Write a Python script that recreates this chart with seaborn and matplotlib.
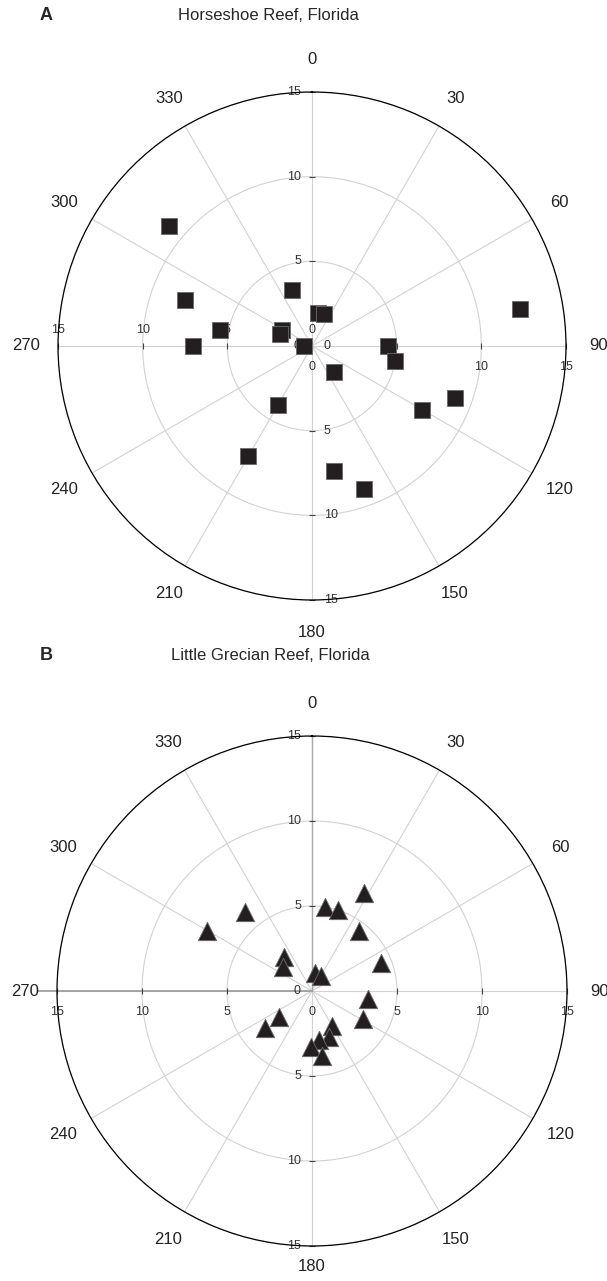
import numpy as np
import matplotlib
matplotlib.use("Agg")
import matplotlib.pyplot as plt
import seaborn as sns

# Horseshoe Reef (panel A): bearing in degrees, distance
hs_angle = [310, 290, 270, 280, 298, 290, 340, 10, 20, 270, 90, 100, 140, 80, 110, 120, 210, 210, 170, 160]
hs_dist = [11.0, 8.0, 7.0, 5.5, 2.0, 2.0, 3.5, 2.0, 2.0, 0.5, 4.5, 5.0, 2.0, 12.5, 9.0, 7.5, 4.0, 7.5, 7.5, 9.0]

# Little Grecian Reef (panel B)
lg_angle = [28, 9, 18, 320, 300, 38, 68, 320, 310, 10, 31, 98, 119, 232, 232, 150, 160, 172, 181, 171]
lg_dist = [6.5, 5.0, 5.0, 6.1, 7.1, 4.5, 4.4, 2.6, 2.2, 1.1, 1.0, 3.3, 3.4, 2.5, 3.5, 2.4, 2.9, 2.9, 3.3, 3.9]

angle_labels = [str(a) for a in range(0, 360, 30)]
ring_vals = [0, 5, 10, 15]

sns.set_style("white")
plt.rcParams["font.family"] = ["Liberation Sans", "DejaVu Sans"]

fig = plt.figure(figsize=(6.07, 12.81), dpi=100)
axA = fig.add_axes([58 / 607, 1 - 600 / 1281, 508 / 607, 508 / 1281], projection="polar")
axB = fig.add_axes([57 / 607, 1 - 1246 / 1281, 510 / 607, 510 / 1281], projection="polar")


def setup(ax, bottom_r=16.9):
    ax.set_theta_zero_location("N")
    ax.set_theta_direction(-1)
    ax.set_rlim(0, 15)
    ax.set_xticks(np.deg2rad(np.arange(0, 360, 30)))
    ax.set_xticklabels([])
    ax.set_yticks([5, 10, 15])
    ax.set_yticklabels([])
    ax.grid(True, color="#d2d2d2", lw=0.8)
    ax.spines["polar"].set_color("black")
    ax.spines["polar"].set_linewidth(0.9)
    for a, lab in zip(range(0, 360, 30), angle_labels):
        rr = bottom_r if a == 180 else 16.9
        ax.text(np.deg2rad(a), rr, lab, ha="center", va="center", fontsize=12,
                color="#222222", clip_on=False)


def radial_labels(ax, deg, dx, dy, ha, skip_zero=False):
    th = np.deg2rad(deg)
    for v in ring_vals:
        if v == 0 and skip_zero:
            continue
        ax.annotate(str(v), xy=(th, v), xytext=(dx, dy), textcoords="offset pixels",
                    ha=ha, va="center", fontsize=9, color="#333333", zorder=2,
                    annotation_clip=False)
    mk = "_" if deg in (0, 180) else "|"
    ax.plot([th] * 3, [5, 10, 15], ls="none", marker=mk, ms=4, mew=0.8,
            color="#444444", clip_on=False, zorder=2)


setup(axA)
radial_labels(axA, 0, -11, 0, "right")
radial_labels(axA, 270, 0, 16, "center")
radial_labels(axA, 90, 0, -21, "center")
radial_labels(axA, 180, 12, 0, "left")
sns.scatterplot(x=np.deg2rad(hs_angle), y=hs_dist, ax=axA, marker="s", s=135,
                color="#231f20", edgecolor="#6a6a6a", linewidth=0.6, zorder=5, clip_on=False)
axA.set_rlim(0, 15)

setup(axB, bottom_r=16.2)
axB.plot([0, 0], [0, 15], color="#a8a8a8", lw=1.0, zorder=1)
axB.plot([np.deg2rad(270)] * 2, [0, 16.1], color="#999999", lw=1.2, zorder=1, clip_on=False)
radial_labels(axB, 0, -11, 0, "right")
radial_labels(axB, 270, 0, -21, "center")
radial_labels(axB, 90, 0, -21, "center", skip_zero=True)
radial_labels(axB, 180, -11, 0, "right", skip_zero=True)
sns.scatterplot(x=np.deg2rad(lg_angle), y=lg_dist, ax=axB, marker="^", s=175,
                color="#231f20", edgecolor="#6a6a6a", linewidth=0.6, zorder=5, clip_on=False)
axB.set_rlim(0, 15)

fig.text(40 / 607, 1 - 16 / 1281, "A", fontsize=13, fontweight="bold", ha="left", va="center")
fig.text(268 / 607, 1 - 16 / 1281, "Horseshoe Reef, Florida", fontsize=12, ha="center", va="center")
fig.text(40 / 607, 1 - 656 / 1281, "B", fontsize=13, fontweight="bold", ha="left", va="center")
fig.text(270 / 607, 1 - 656 / 1281, "Little Grecian Reef, Florida", fontsize=12, ha="center", va="center")

fig.savefig("out.png", dpi=100)
